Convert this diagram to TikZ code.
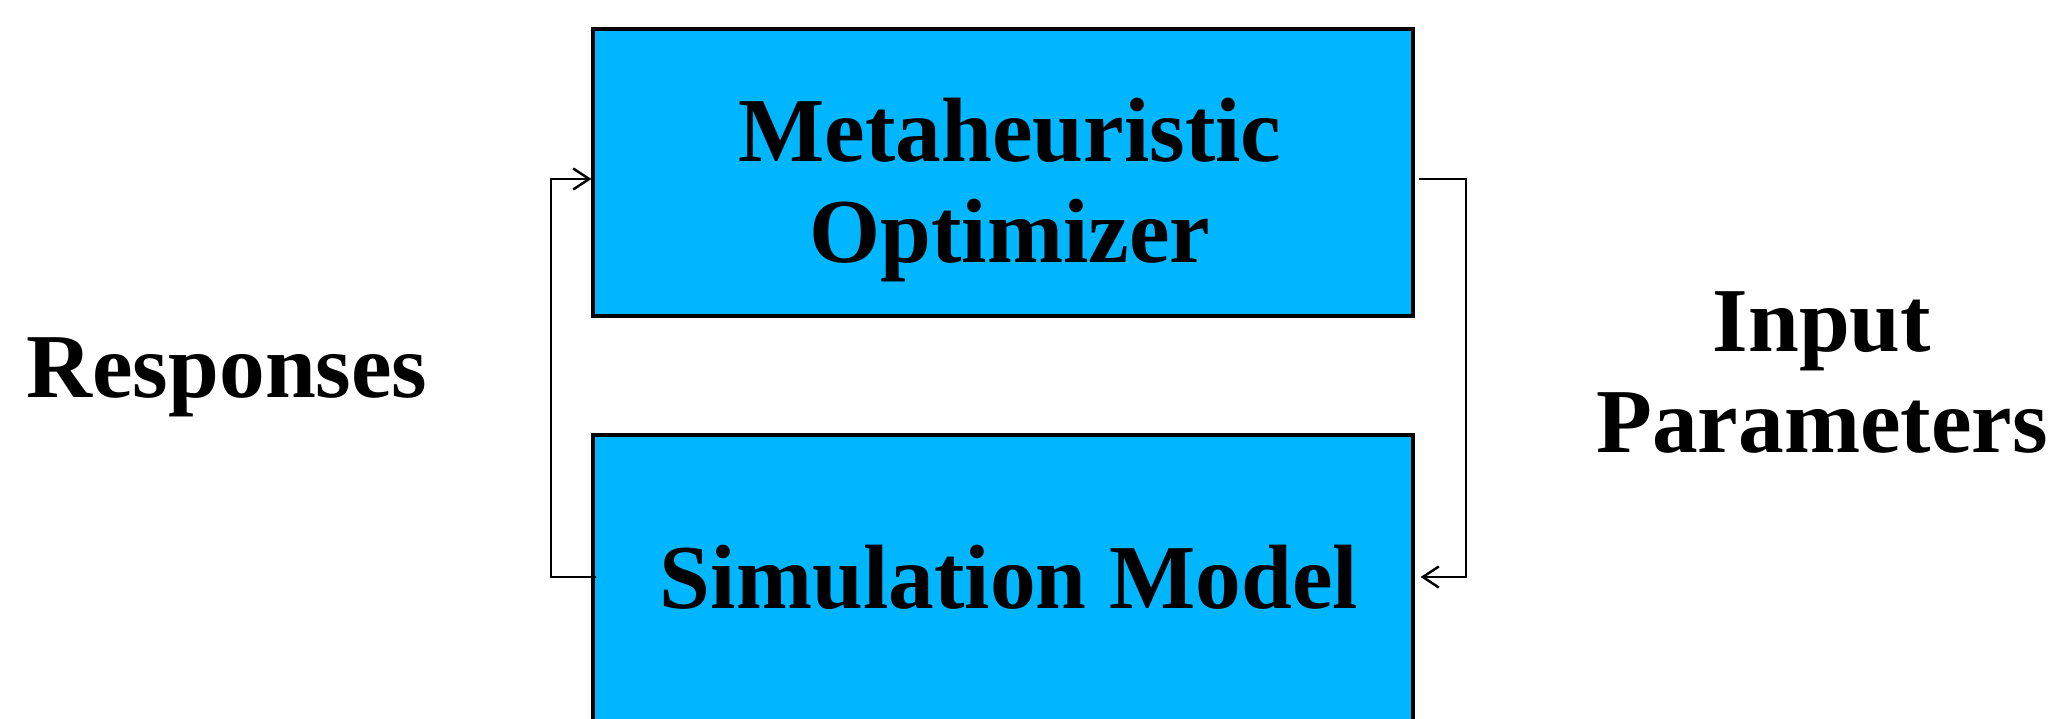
\documentclass[tikz,border=0pt]{standalone}
\usepackage{fontspec}
\setmainfont{Liberation Serif}
\usepackage{tikz}
\usetikzlibrary{arrows.meta,positioning}
\definecolor{boxblue}{RGB}{0,182,255}

\begin{document}
\begin{tikzpicture}[>={Straight Barb[length=1.6mm,width=2.1mm]}, line width=0.7pt,
    block/.style={draw=black, line width=0.9pt, fill=boxblue, minimum width=8.2cm, minimum height=2.87cm, align=center, inner sep=0pt},
    lbl/.style={align=center, inner sep=0pt}]

        \useasboundingbox (0,0) rectangle (20.54,7.19);
        \fontsize{26}{28.5}\selectfont\bfseries

        % Boxes
        \node[block] (opt) at (10.03,5.465) {};
        \node[block] (sim) at (10.03,1.405) {};
        \node[lbl] (opttxt) at (10.10,5.29) {Metaheuristic\\Optimizer};
        \node[lbl] (simtxt) at (10.09,1.42) {Simulation Model};

        % Side labels
        \node[lbl] (resp) at (2.27,3.42) {Responses};
        \node[lbl] (inp) at (18.22,3.465) {Input\\Parameters};

        % Corners of the loops
        \coordinate (lt) at (5.51,5.40);
        \coordinate (lb) at (5.51,1.42);
        \coordinate (rt) at (14.66,5.40);
        \coordinate (rb) at (14.66,1.42);

        % Responses loop (left)
        \draw[->] ([xshift=0.05cm]sim.west |- lb) -- (lb) -- (lt) -- (opt.west |- lt);

        % Input loop (right)
        \draw[->] ([xshift=0.04cm]opt.east |- rt) -- (rt) -- (rb) -- ([xshift=0.06cm]sim.east |- rb);

\end{tikzpicture}
\end{document}
